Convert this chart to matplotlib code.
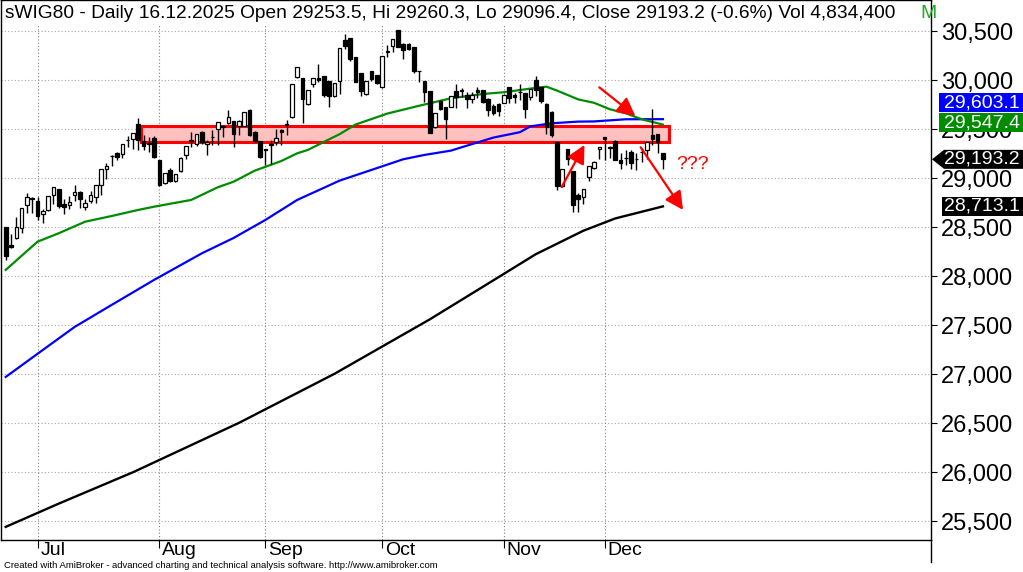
import matplotlib
matplotlib.use('Agg')
import matplotlib.pyplot as plt
from matplotlib.patches import Rectangle, Polygon
from matplotlib.transforms import IdentityTransform
from matplotlib.lines import Line2D

plt.rcParams['font.family'] = ['Liberation Sans', 'DejaVu Sans']

# ---------------- data (bar index 0 = 23.06.2025, 124 = 16.12.2025) ----------------
opens = [28500, 28323, 28388, 28490, 28731, 28803, 28769, 28633, 28674, 28833,
         28888, 28738, 28731, 28833, 28864, 28708, 28772, 28806, 28935, 29099,
         29225, 29262, 29245, 29391, 29401, 29554, 29384, 29360, 29411, 29187,
         28956, 29085, 28969, 29071, 29235, 29385, 29347, 29473, 29350, 29418,
         29500, 29534, 29561, 29585, 29534, 29537, 29697, 29476, 29384, 29296,
         29340, 29373, 29490, 29548, 29622, 30030, 30027, 29755, 29966, 30020,
         30044, 29993, 29840, 29996, 30414, 30428, 30238, 30071, 29857, 30095,
         30054, 29928, 30292, 30353, 30513, 30367, 30367, 30336, 30098, 29996,
         29891, 29527, 29785, 29724, 29731, 29891, 29894, 29850, 29813, 29901,
         29901, 29805, 29738, 29758, 29772, 29930, 29850, 29884, 29874, 29826,
         30003, 29935, 29760, 29680, 29367, 28922, 29296, 29075, 28830, 28806,
         29010, 29102, 29303, 29418, 29323, 29381, 29187, 29204, 29272, 29201,
         29269, 29289, 29442, 29452, 29253.5]
highs = [28507, 28432, 28602, 28700, 28847, 28806, 28806, 28684, 28820, 28908,
         28895, 28786, 28820, 28929, 28874, 28786, 28874, 28935, 29092, 29153,
         29235, 29269, 29347, 29435, 29466, 29612, 29439, 29418, 29432, 29190,
         29051, 29109, 29041, 29221, 29330, 29473, 29452, 29486, 29391, 29493,
         29575, 29541, 29697, 29585, 29590, 29677, 29704, 29480, 29384, 29300,
         29392, 29500, 29503, 29595, 29959, 30132, 30027, 29898, 30020, 30163,
         30044, 29993, 29969, 30329, 30469, 30428, 30238, 30071, 29993, 30095,
         30054, 30248, 30360, 30421, 30513, 30384, 30377, 30336, 30098, 29996,
         29891, 29663, 29799, 29724, 29840, 29966, 29925, 29880, 29880, 29930,
         29901, 29816, 29755, 29772, 29863, 29935, 29870, 29959, 29874, 29908,
         30040, 29935, 29765, 29690, 29367, 29092, 29296, 29075, 28850, 28888,
         29129, 29180, 29323, 29425, 29330, 29391, 29262, 29289, 29289, 29255,
         29306, 29374, 29704, 29452, 29260.3]
lows = [28167, 28286, 28380, 28446, 28650, 28650, 28575, 28541, 28670, 28738,
        28700, 28636, 28687, 28772, 28697, 28680, 28745, 28752, 28833, 28990,
        29126, 29187, 29211, 29323, 29299, 29289, 29289, 29272, 29211, 28922,
        28942, 28963, 28960, 29060, 29194, 29323, 29330, 29350, 29235, 29340,
        29337, 29425, 29550, 29323, 29442, 29530, 29430, 29370, 29211, 29136,
        29146, 29340, 29340, 29442, 29615, 30020, 29568, 29750, 29932, 29980,
        29830, 29731, 29830, 29860, 30320, 30200, 29980, 29843, 29847, 29993,
        29962, 29920, 30234, 30292, 30340, 30214, 30309, 30078, 29986, 29782,
        29462, 29510, 29700, 29401, 29724, 29720, 29826, 29720, 29766, 29823,
        29770, 29640, 29646, 29640, 29765, 29768, 29765, 29799, 29612, 29800,
        29840, 29765, 29450, 29425, 28878, 28908, 29140, 28653, 28660, 28738,
        28973, 29092, 29201, 29187, 29207, 29187, 29092, 29136, 29092, 29085,
        29170, 29194, 29340, 29255, 29096.4]
closes = [28211, 28303, 28500, 28694, 28806, 28790, 28619, 28663, 28816, 28908,
          28721, 28711, 28755, 28861, 28789, 28745, 28827, 28935, 29092, 29126,
          29232, 29214, 29347, 29395, 29466, 29391, 29333, 29350, 29221, 28929,
          29051, 28969, 29041, 29204, 29326, 29388, 29452, 29374, 29374, 29422,
          29571, 29520, 29622, 29456, 29585, 29677, 29445, 29384, 29221, 29292,
          29345, 29408, 29469, 29553, 29959, 30132, 29809, 29898, 30020, 30000,
          29850, 29840, 29969, 30329, 30346, 30217, 29986, 29894, 29993, 30010,
          29969, 30248, 30298, 30421, 30343, 30309, 30316, 30098, 30090, 29884,
          29466, 29663, 29704, 29609, 29840, 29830, 29897, 29811, 29847, 29882,
          29782, 29692, 29670, 29690, 29850, 29815, 29833, 29880, 29707, 29908,
          29901, 29792, 29520, 29442, 28922, 29092, 29201, 28728, 28786, 28888,
          29129, 29170, 29323, 29398, 29309, 29190, 29153, 29207, 29153, 29197,
          29265, 29374, 29398, 29371, 29193.2]

# moving averages (bar index, value)
ma_green_bars = [0, 6, 10, 15, 20, 25, 28, 35, 40, 43, 47, 52, 55, 57, 60, 63, 66,
                 72, 78, 84, 90, 94, 99, 102, 104, 108, 111, 114, 117, 120, 124]
ma_green_vals = [28065, 28353, 28439, 28557, 28615, 28677, 28710, 28779, 28908, 28965,
                 29078, 29176, 29255, 29289, 29370, 29450, 29548, 29660, 29740, 29816,
                 29860, 29878, 29915, 29935, 29895, 29805, 29770, 29704, 29663, 29602,
                 29547.4]
ma_blue_bars = [0, 7, 13, 20, 28, 37, 43, 49, 55, 63, 69, 75, 79, 84, 86, 92, 97, 99,
                103, 108, 111, 117, 124]
ma_blue_vals = [26973, 27248, 27483, 27708, 27963, 28234, 28391, 28575, 28779, 28976,
                29085, 29194, 29238, 29282, 29316, 29415, 29470, 29530, 29561, 29578,
                29580, 29602, 29603.1]
ma_black_bars = [0, 10, 24, 44, 62, 80, 91, 100, 109, 115, 124]
ma_black_vals = [25443, 25680, 26000, 26504, 27004, 27560, 27925, 28225, 28465, 28590,
                 28713.1]

month_labels = ['Jul', 'Aug', 'Sep', 'Oct', 'Nov', 'Dec']
month_bars = [6, 29, 49, 71, 94, 113]
y_ticks = [25500, 26000, 26500, 27000, 27500, 28000, 28500, 29000, 29500, 30000, 30500]

zone_bars = [25.5, 125.2]
zone_vals = [29373, 29533]

arrows = [((112, 29928), (118.8, 29635)),
          ((104.9, 28911), (109.2, 29340)),
          ((119.8, 29316), (127.8, 28677))]
question_pos = (129.6, 29140)

title = ("sWIG80 - Daily 16.12.2025 Open 29253.5, Hi 29260.3, Lo 29096.4, "
         "Close 29193.2 (-0.6%) Vol 4,834,400")

last_labels = [(29547.4, '29,547.4'), (29603.1, '29,603.1'),
               (29193.2, '29,193.2'), (28713.1, '28,713.1')]

# ---------------- figure ----------------
W, H = 1023, 572
fig = plt.figure(figsize=(W / 100, H / 100), dpi=100)
ax = fig.add_axes([1 / W, 32 / H, 930 / W, 540 / H])
ax.set_xlim(-0.89, 174.58)
ax.set_ylim(25309, 30819)

GREEN = '#008c00'
for v in y_ticks:
    ax.axhline(v, color='#a8a8a8', lw=0.8, ls=(0, (1, 2)), zorder=0)
for b in month_bars:
    ax.axvline(b, ymax=515 / 540, color='#808080', lw=0.8, ls=(0, (1, 2)), zorder=0)

# red zone
ax.add_patch(Rectangle((zone_bars[0], zone_vals[0]), zone_bars[1] - zone_bars[0],
                       zone_vals[1] - zone_vals[0], facecolor='#ffc0c0',
                       edgecolor='#ff0000', lw=2.2, zorder=1))

# moving averages
ax.plot(ma_black_bars, ma_black_vals, color='black', lw=1.7, zorder=2)
ax.plot(ma_blue_bars, ma_blue_vals, color='#0000ff', lw=1.6, zorder=2)
ax.plot(ma_green_bars, ma_green_vals, color=GREEN, lw=1.6, zorder=2)

# candles
bw = 0.68
for i, (o, h, l, c) in enumerate(zip(opens, highs, lows, closes)):
    ax.plot([i, i], [l, h], color='black', lw=1.0, zorder=3, solid_capstyle='butt')
    lo, hi = min(o, c), max(o, c)
    face = 'white' if c > o else 'black'
    ax.add_patch(Rectangle((i - bw / 2, lo), bw, max(hi - lo, 4), facecolor=face,
                           edgecolor='black', lw=0.9, zorder=4))

# arrows and ???
for (s, e) in arrows:
    ax.annotate('', xy=e, xytext=s,
                arrowprops=dict(arrowstyle='-|>,head_length=0.55,head_width=0.28',
                                color='#ff0000', lw=1.6, mutation_scale=20,
                                shrinkA=0, shrinkB=0), zorder=6)
ax.text(question_pos[0], question_pos[1], '???', color='#ff0000', fontsize=14,
        ha='center', va='center', zorder=6)

# axes styling
for sp in ax.spines.values():
    sp.set_color('black')
    sp.set_linewidth(1.0)
ax.yaxis.tick_right()
ax.set_yticks(y_ticks)
ax.set_yticklabels([f'{v:,}' for v in y_ticks], fontsize=17)
ax.tick_params(axis='y', direction='out', length=4, width=0.8, pad=3)
ax.set_xticks(month_bars)
ax.set_xticklabels([])
ax.tick_params(axis='x', direction='out', length=6, width=0.8)
for b, lab in zip(month_bars, month_labels):
    ax.annotate(lab, xy=(b, 0), xycoords=('data', 'axes fraction'), xytext=(2, -1.5),
                textcoords='offset points', ha='left', va='top', fontsize=14)

# right axis line continues below
fig.add_artist(Line2D([931 / W, 931 / W], [1 - 540 / H, 1 - 562 / H],
                      transform=fig.transFigure, color='black', lw=1.0))

fig.canvas.draw()
ident = IdentityTransform()


def ypix(v):
    return ax.transData.transform((0, v))[1]


def value_box(yc, text, color, arrow=False, x0=939):
    h = 19
    if arrow:
        pts = [(932, yc), (944, yc + h / 2), (W + 2, yc + h / 2), (W + 2, yc - h / 2),
               (944, yc - h / 2)]
    else:
        pts = [(x0, yc + h / 2), (W + 2, yc + h / 2), (W + 2, yc - h / 2), (x0, yc - h / 2)]
    fig.add_artist(Polygon(pts, closed=True, transform=ident, facecolor=color,
                           edgecolor='none', zorder=10, clip_on=False))
    fig.add_artist(plt.Text(944, yc, text, color='white', fontsize=14, va='center',
                            ha='left', transform=ident, zorder=11))


y_green = ypix(last_labels[0][0]) + 2
value_box(y_green, last_labels[0][1], GREEN)
value_box(y_green + 20, last_labels[1][1], '#0000ff')
value_box(ypix(last_labels[2][0]), last_labels[2][1], 'black', arrow=True)
value_box(ypix(last_labels[3][0]), last_labels[3][1], 'black', x0=942)

# title
fig.text(5 / W, 1 - 13 / H, title, fontsize=13.8, ha='left', va='center', zorder=9)
fig.text(920 / W, 1 - 13 / H, 'M', fontsize=14, ha='left', va='center', color='#22aa22',
         zorder=9)

fig.text(4 / W, 1 - 565 / H,
         'Created with AmiBroker - advanced charting and technical analysis software. '
         'http://www.amibroker.com',
         fontsize=6.8, ha='left', va='center',
         family=['Liberation Sans Narrow', 'Liberation Sans'])

fig.savefig('out.png', dpi=100)
